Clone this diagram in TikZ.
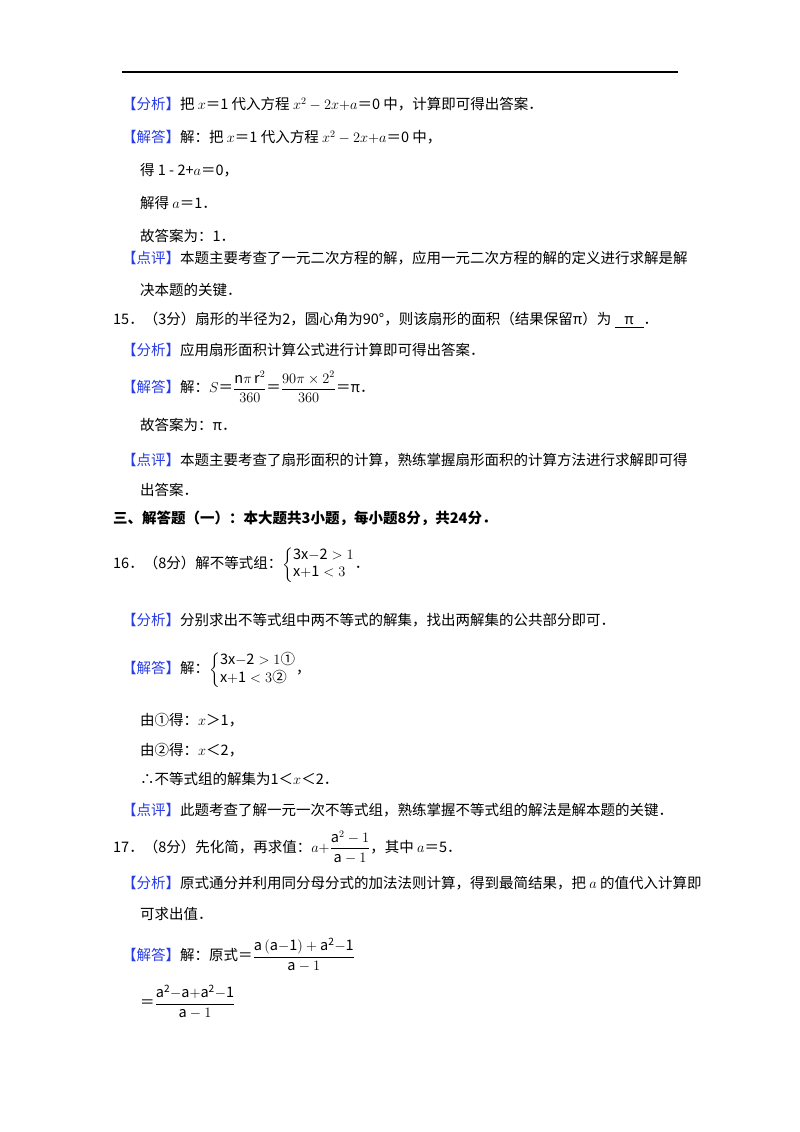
\documentclass[tikz,border=0pt]{standalone}
\usepackage{fontspec}
\usepackage{amsmath}
\setmainfont{Noto Sans CJK SC}
\definecolor{lblue}{RGB}{40,60,230}
\newcommand{\tg}[1]{{\color{lblue}【#1】}}
\newcommand{\sys}[2]{\left\{\begin{array}{@{}l@{}}#1\\ #2\end{array}\right.}
\begin{document}
\begin{tikzpicture}[x=1pt,y=-1pt,
  ln/.style={anchor=west,inner sep=0pt,font=\fontsize{14.5}{17}\selectfont}]
\useasboundingbox (0,0) rectangle (800,1132);
\fill[white] (0,0) rectangle (800,1132);
\draw[line width=1.2pt] (122,72) -- (678,72);
\node[ln] (l1) at (122,104) {\tg{分析}把 $x$＝1 代入方程 $x^2-2x{+}a$＝0 中，计算即可得出答案．};
\node[ln] (l2) at (122,137) {\tg{解答}解：把 $x$＝1 代入方程 $x^2-2x{+}a$＝0 中，};
\node[ln] (l3) at (140,170) {得 1 - 2+$a$＝0，};
\node[ln] (l4) at (140,203) {解得 $a$＝1．};
\node[ln] (l5) at (140,236) {故答案为：1．};
\node[ln] (l6) at (122,258) {\tg{点评}本题主要考查了一元二次方程的解，应用一元二次方程的解的定义进行求解是解};
\node[ln] (l7) at (140,290) {决本题的关键．};
\node[ln] (l8) at (113,320) {15．（3分）扇形的半径为2，圆心角为90°，则该扇形的面积（结果保留π）为 \underline{\ \ \ π\ \ \ }．};
\node[ln] (l9) at (122,350) {\tg{分析}应用扇形面积计算公式进行计算即可得出答案．};
\node[ln] (l10) at (122,387) {\tg{解答}解：$S$＝$\dfrac{\mathrm{n}\pi\,\mathrm{r}^2}{360}$＝$\dfrac{90\pi\times 2^2}{360}$＝π．};
\node[ln] (l11) at (140,425) {故答案为：π．};
\node[ln] (l12) at (122,460) {\tg{点评}本题主要考查了扇形面积的计算，熟练掌握扇形面积的计算方法进行求解即可得};
\node[ln] (l13) at (140,490) {出答案．};
\node[ln,font=\fontsize{14.5}{17}\selectfont\bfseries] (l14) at (113,518) {三、解答题（一）：本大题共3小题，每小题8分，共24分．};
\node[ln] (l15) at (113,565) {16．（8分）解不等式组：$\sys{\mathrm{3x{-}2}>1}{\mathrm{x{+}1}<3}$．};
\node[ln] (l16) at (122,620) {\tg{分析}分别求出不等式组中两不等式的解集，找出两解集的公共部分即可．};
\node[ln] (l17) at (122,670) {\tg{解答}解：$\sys{\mathrm{3x{-}2}>1\text{①}}{\mathrm{x{+}1}<3\text{②}}$，};
\node[ln] (l18) at (140,720) {由①得：$x$＞1，};
\node[ln] (l19) at (140,750) {由②得：$x$＜2，};
\node[ln] (l20) at (140,779) {∴不等式组的解集为1＜$x$＜2．};
\node[ln] (l21) at (122,810) {\tg{点评}此题考查了解一元一次不等式组，熟练掌握不等式组的解法是解本题的关键．};
\node[ln] (l22) at (113,847) {17．（8分）先化简，再求值：$a{+}\dfrac{\mathrm{a}^2-1}{\mathrm{a}-1}$，其中 $a$＝5．};
\node[ln] (l23) at (122,883) {\tg{分析}原式通分并利用同分母分式的加法法则计算，得到最简结果，把 $a$ 的值代入计算即};
\node[ln] (l24) at (140,914) {可求出值．};
\node[ln] (l25) at (122,955) {\tg{解答}解：原式＝$\dfrac{\mathrm{a\,(a{-}1)+a^2{-}1}}{\mathrm{a}-1}$};
\node[ln] (l26) at (140,1002) {＝$\dfrac{\mathrm{a^2{-}a{+}a^2{-}1}}{\mathrm{a}-1}$};
\end{tikzpicture}
\end{document}
